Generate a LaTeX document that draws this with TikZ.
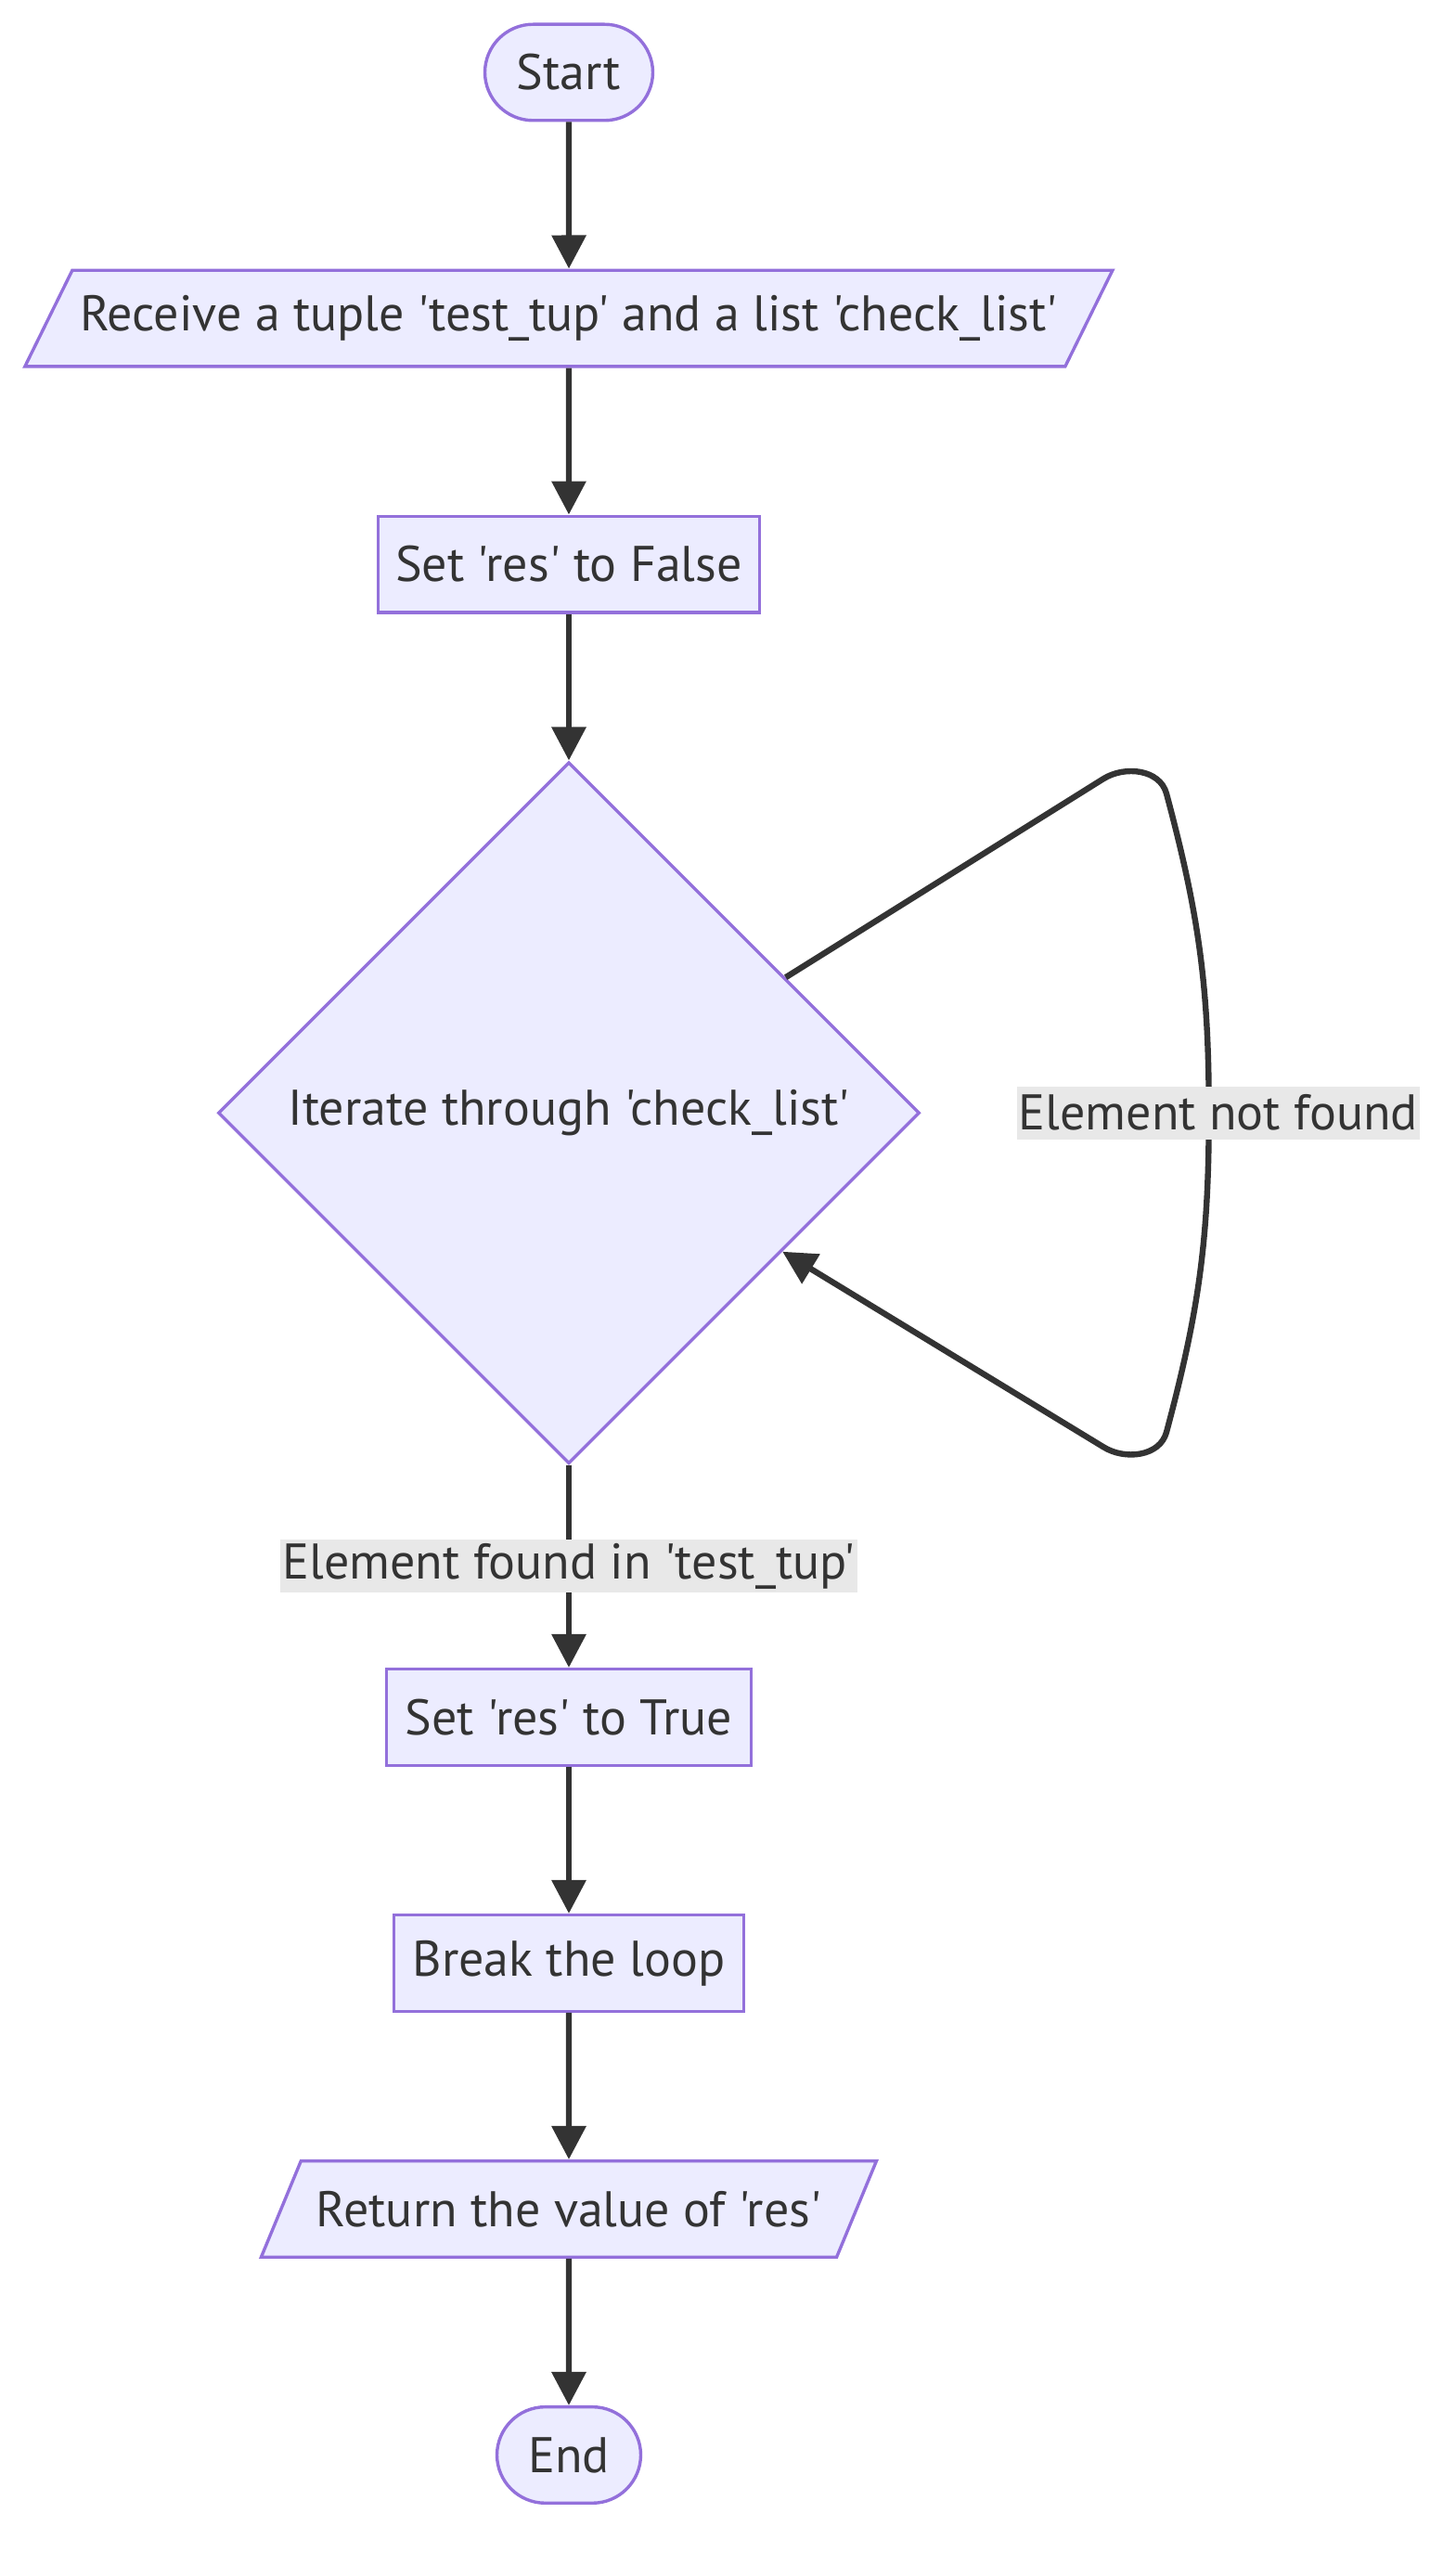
\documentclass[tikz,border=0pt]{standalone}
\usepackage{fontspec}
\setmainfont{PT Sans}[Ligatures=TeXOff]
\usetikzlibrary{
	positioning,
	arrows.meta,
	shapes.geometric,
	calc
}
\definecolor{nodefill}{HTML}{ECECFF}
\definecolor{nodeborder}{HTML}{9370DB}
\definecolor{arrowcolor}{HTML}{333333}
\definecolor{labelbg}{HTML}{E8E8E8}
\tikzset{
	basenode/.style={
		draw=nodeborder,
		fill=nodefill,
		line width=1.7pt,
		text=arrowcolor,
		minimum height=51.8pt,
		inner sep=4pt,
		align=center
	},
	termnode/.style={
		basenode,
		rectangle,
		rounded corners=26pt
	},
	procnode/.style={
		basenode,
		rectangle
	},
	ionode/.style={
		basenode,
		trapezium,
		trapezium left angle=52,
		trapezium right angle=128,
		trapezium stretches body
	},
	decnode/.style={
		basenode,
		diamond,
		aspect=1,
		minimum width=378pt,
		minimum height=378pt
	},
	arrow/.style={
		-{Triangle[length=18pt,width=18pt]},
		color=arrowcolor,
		line width=3.2pt
	},
	edgelabel/.style={
		fill=labelbg,
		text=arrowcolor,
		inner xsep=1pt,
		inner ysep=0pt,
		minimum height=28.5pt
	}
}

\begin{document}
\begin{tikzpicture}[node distance=79pt, font=\fontsize{27}{32}\selectfont]
	\useasboundingbox (0,0) rectangle (784pt,-1375pt);
	
	% Nodes
	\node[termnode, minimum width=90.5pt] (start) at (306.5pt,-39pt) {Start};
	
	\node[ionode, minimum width=586pt, below=of start] (recv)
	{Receive a tuple 'test\_tup' and a list 'check\_list'};
	
	\node[procnode, minimum width=205.5pt, below=of recv] (setfalse)
	{Set 'res' to False};
	
	\node[decnode, below=of setfalse] (iter)
	{Iterate through 'check\_list'};
	
	\node[procnode, minimum width=196.5pt, below=109pt of iter] (settrue)
	{Set 'res' to True};
	
	\node[procnode, minimum width=188.5pt, below=of settrue] (brk)
	{Break the loop};
	
	\node[ionode, minimum width=331.5pt, below=of brk] (ret)
	{Return the value of 'res'};
	
	\node[termnode, minimum width=77.5pt, below=of ret] (finish) {End};
	
	% Loop turning point
	\coordinate (loopR) at ([xshift=155pt]iter.east);
	
	% Arrows
	\draw[arrow] (start) -- (recv);
	\draw[arrow] (recv) -- (setfalse);
	\draw[arrow] (setfalse) -- (iter);
	
	% loop back into the decision
	\draw[arrow] (iter.32) -- ($(iter.center)+(288pt,180pt)$)
	to[out=32,in=105] ($(iter.center)+(322pt,172pt)$)
	to[out=-75,in=90] (loopR)
	node[edgelabel, xshift=5pt] {Element not found}
	to[out=-90,in=75] ($(iter.center)+(322pt,-172pt)$)
	to[out=-105,in=-32] ($(iter.center)+(288pt,-180pt)$)
	-- (iter.-33);
	
	\draw[arrow] (iter) -- node[edgelabel] {Element found in 'test\_tup'} (settrue);
	\draw[arrow] (settrue) -- (brk);
	\draw[arrow] (brk) -- (ret);
	\draw[arrow] (ret) -- (finish);
	
\end{tikzpicture}
\end{document}
